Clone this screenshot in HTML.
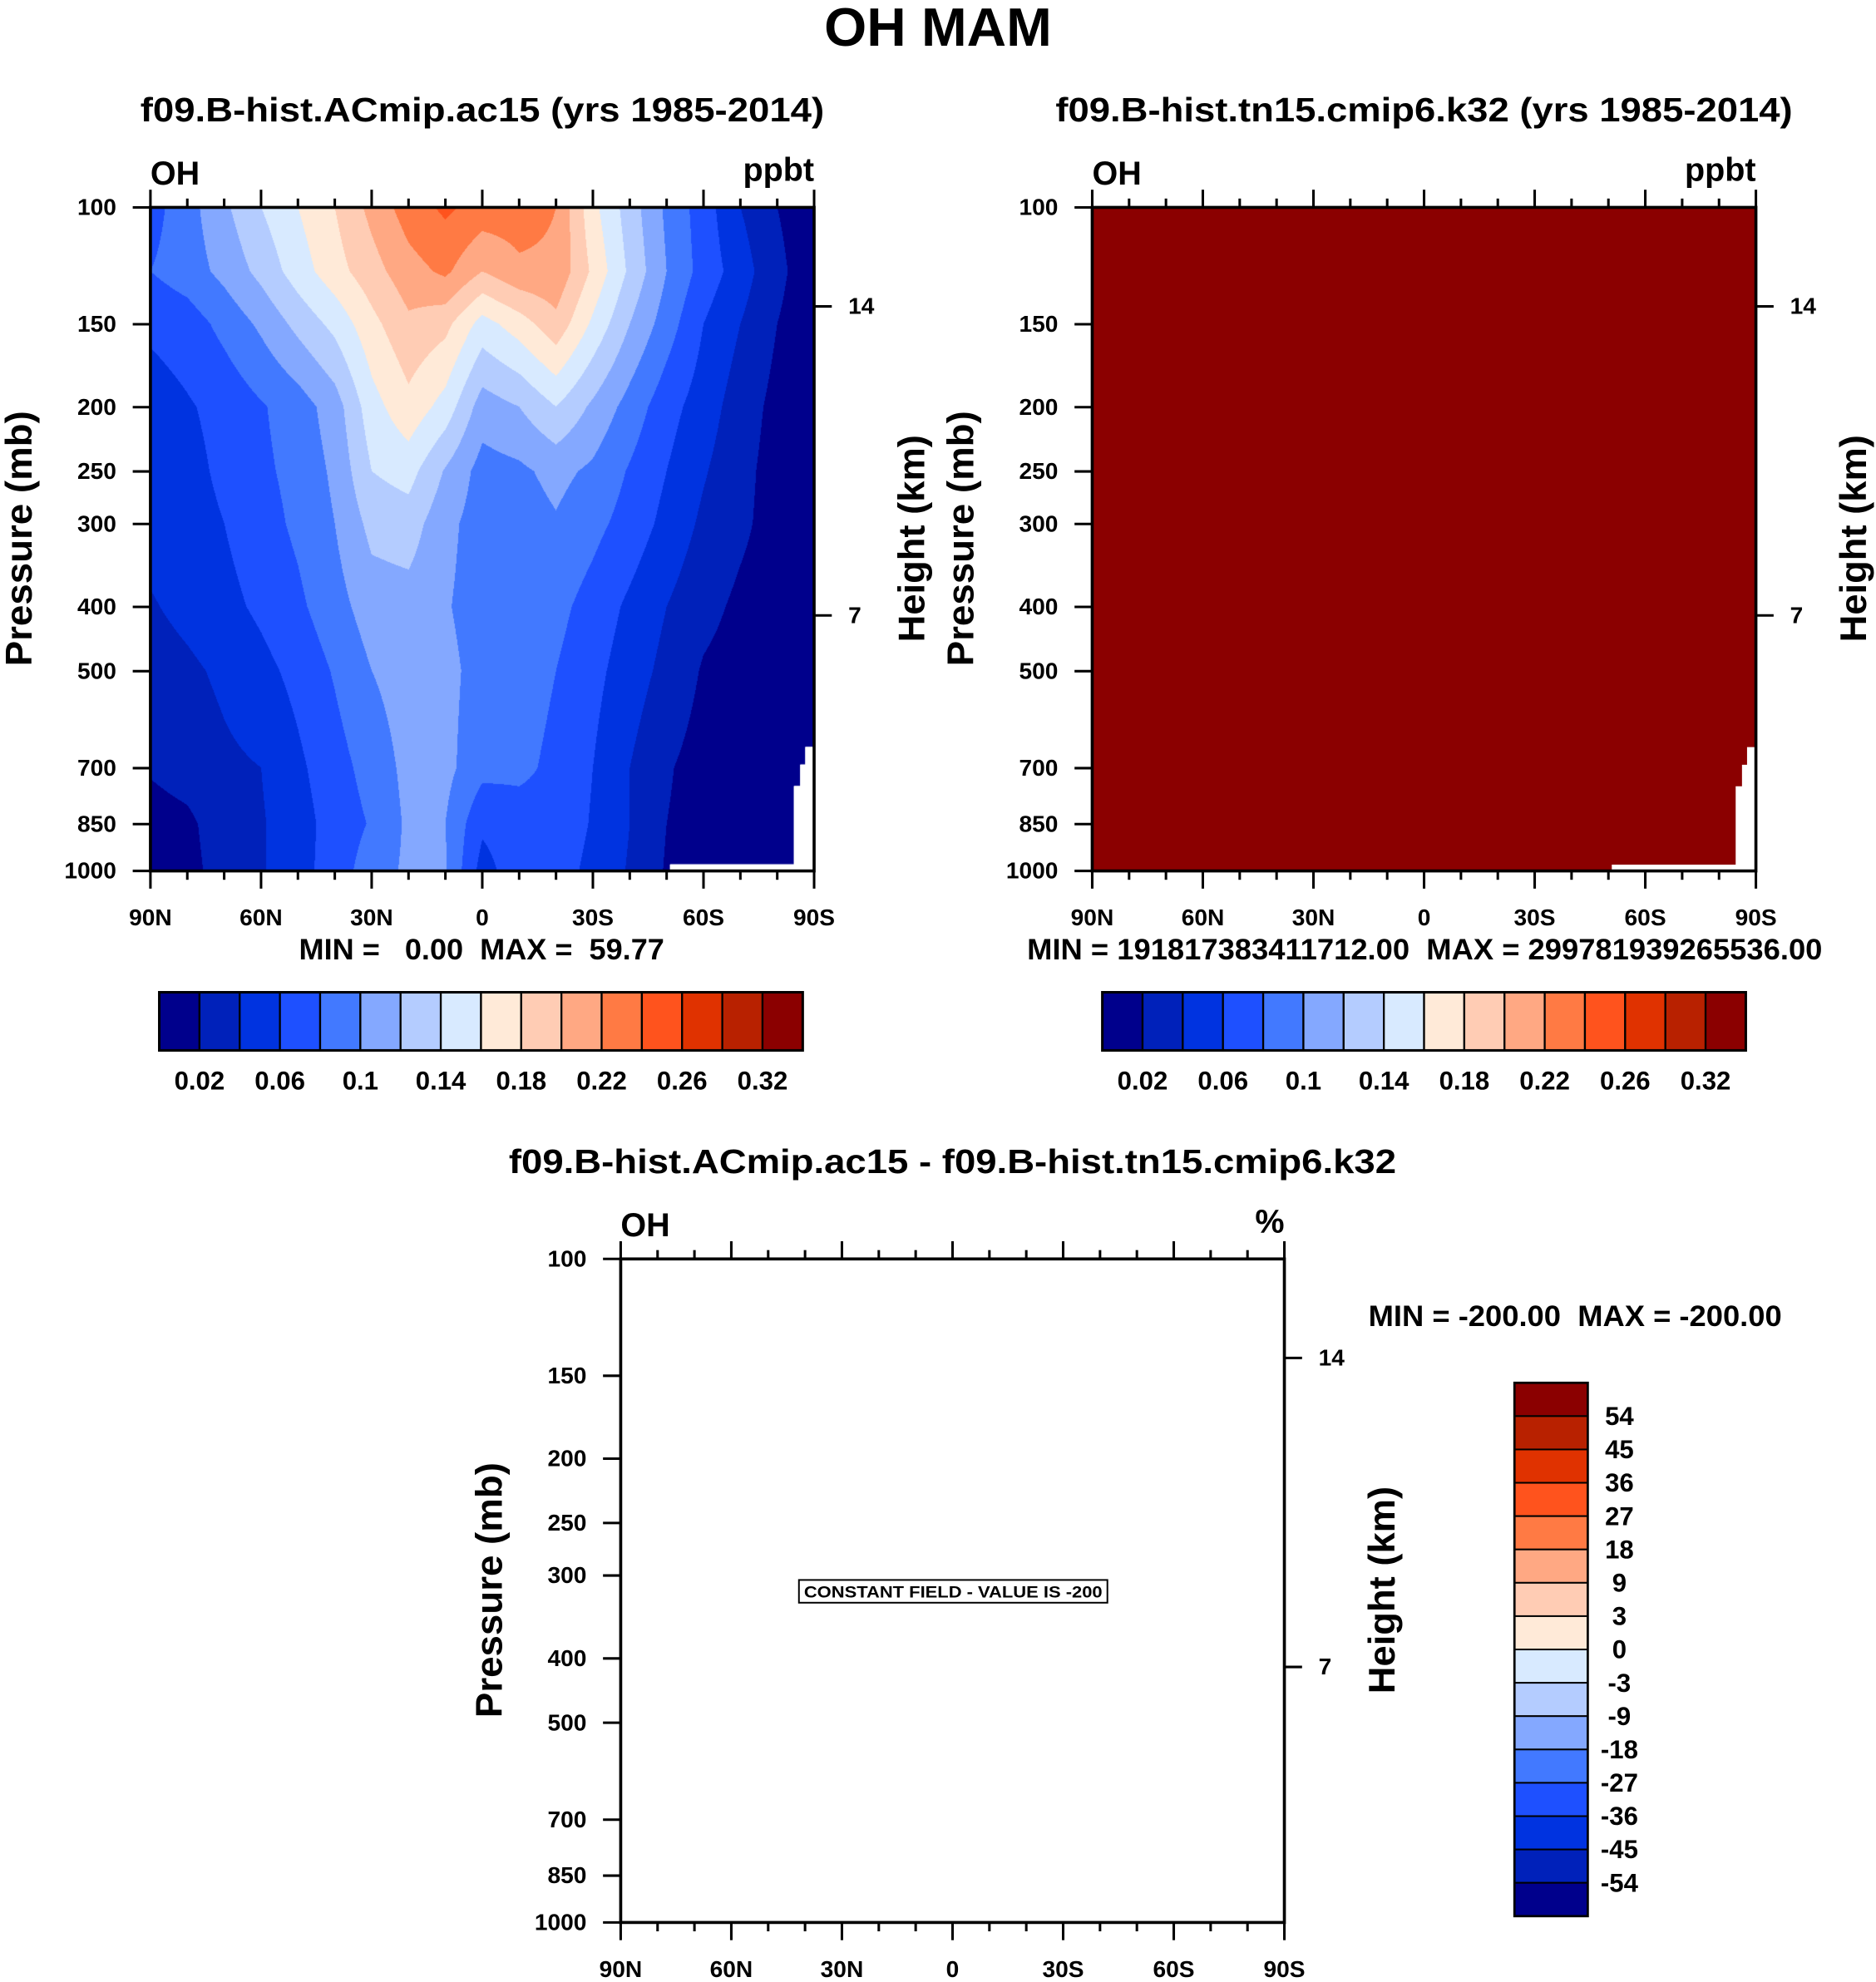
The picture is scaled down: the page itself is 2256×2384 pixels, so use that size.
<!DOCTYPE html>
<html><head><meta charset="utf-8">
<style>
html,body{margin:0;padding:0;background:#fff;}
#wrap{position:relative;width:2256px;height:2384px;overflow:hidden;}
svg{position:absolute;left:0;top:0;}
canvas{position:absolute;}
text{font-family:"Liberation Sans",Arial,sans-serif;font-weight:bold;fill:#000;}
</style></head>
<body>
<div id="wrap">
<canvas id="c1"></canvas>
<svg id="s" width="2256" height="2384" viewBox="0 0 1484 1568"></svg>
</div>
<script>
// ---------- data ----------
const lats = [90,80,70,60,50,40,30,20,10,0,-10,-20,-30,-40,-50,-60,-70,-80,-90];
const pLevels = [100,125,150,200,250,300,400,500,700,850,1000];
const row100  = [3.6,4.6,5.8,7.0,8.0,9.0,10.3,11.5,12.2,11.6,11.5,11.0,8.3,6.5,4.8,3.5,2.0,1.0,0.5];
const row125  = [4.0,4.5,5.3,6.3,7.5,8.6,9.6,10.6,11.2,10.0,10.8,10.8,8.8,6.8,5.0,3.6,2.5,1.2,0.5];
const row150  = [3.2,3.5,4.3,5.2,6.3,7.3,8.7,9.8,9.3,7.6,8.5,9.7,7.8,6.0,4.5,3.0,2.0,1.0,0.5];
const row200  = [2.5,2.9,3.3,3.9,4.5,5.5,7.6,8.7,7.6,5.5,6.0,7.0,5.8,4.6,3.4,2.5,1.5,0.7,0.4];
const row250  = [2.4,2.7,3.2,3.8,4.3,5.2,7.0,7.4,5.9,4.6,4.8,5.3,4.8,3.9,3.0,2.1,1.3,0.6,0.4];
const row300  = [2.4,2.6,3.0,3.6,4.2,5.0,6.3,6.5,5.3,4.5,4.5,4.9,4.3,3.6,2.7,1.8,1.2,0.6,0.4];
const row400  = [1.9,2.3,2.7,3.2,3.8,4.6,5.5,5.6,5.1,4.5,4.5,4.3,3.6,2.8,2.0,1.3,0.8,0.5,0.4];
const row500  = [1.5,1.8,2.2,2.7,3.3,4.1,5.0,5.5,5.3,4.6,4.4,4.0,3.3,2.5,1.7,0.9,0.6,0.5,0.4];
const row700  = [1.1,1.4,1.8,2.0,2.8,3.6,4.4,5.3,5.3,4.3,4.2,3.8,3.0,2.0,1.1,0.6,0.5,0.5,0.4];
const row850  = [0.6,0.8,1.5,1.9,2.6,3.4,4.1,5.2,5.0,3.2,3.6,3.7,2.9,2.0,1.0,0.6,0.5,0.5,0.4];
const row1000 = [0.5,0.7,1.4,1.9,2.6,3.5,4.5,5.2,5.1,2.6,3.6,3.5,2.7,1.9,0.9,0.6,0.5,0.5,0.4];
const ohRows = [row100,row125,row150,row200,row250,row300,row400,row500,row700,row850,row1000].map(r=>r.map(v=>v*0.02));
const contourLevels = [0.02,0.04,0.06,0.08,0.10,0.12,0.14,0.16,0.18,0.20,0.22,0.24,0.26,0.28,0.30];
const ohColorbarLabels = ["0.02","0.06","0.1","0.14","0.18","0.22","0.26","0.32"];
const ohColorbarLabelIdx = [1,3,5,7,9,11,13,15];
const diffLabels = ["54","45","36","27","18","9","3","0","-3","-9","-18","-27","-36","-45","-54"];
const presTicks = [100,150,200,250,300,400,500,700,850,1000];
const heightTicks = ["14","7"];
const heightTickP = [141,412];
const latTicks = [90,60,30,0,-30,-60,-90];
const latTickLabels = ["90N","60N","30N","0","30S","60S","90S"];
const colors = ["#00008C","#0021BA","#0033E0","#1E50FF","#4279FF","#84A8FF","#B4CCFF","#D8EAFF","#FFEAD8","#FFCCB4","#FFA883","#FF7A44","#FF531D","#E03200","#B82100","#8B0000"];

// ---------- helpers ----------
const NS="http://www.w3.org/2000/svg";
const svg=document.getElementById('s');
function el(tag,attrs,parent){const e=document.createElementNS(NS,tag);for(const k in attrs)e.setAttribute(k,attrs[k]);(parent||svg).appendChild(e);return e;}
function txt(s,x,y,size,anchor,parent,extra){const t=el('text',Object.assign({x:x,y:y,'font-size':size,'text-anchor':anchor||'middle'},extra||{}),parent);t.textContent=s;return t;}
function fit(len){return {textLength:len,lengthAdjust:'spacingAndGlyphs'};}
const PW=525,PH=525;
function yP(p,oy){return oy+PH*Math.log10(p/100);}
function xL(lat,ox){return ox+PW*(90-lat)/180;}

function panel(ox,oy,name,opts){
  const g=el('g',{});
  
  
  if(opts.fill){
    const r=el('rect',{x:ox,y:oy,width:PW,height:PH,fill:opts.fill},g);
    
    
  }
  if(opts.notch){
    const pts=[[530,684],[628,684],[628,622],[633,622],[633,605],[637,605],[637,591],[643,591],[643,689],[530,689]];
    const pg=el('polygon',{points:pts.map(p=>(p[0]-119+ox)+','+(p[1]-164+oy)).join(' '),fill:'#fff'},g);
    
    
  }
  const frame=el('rect',{x:ox,y:oy,width:PW,height:PH,fill:'none',stroke:'#000','stroke-width':2.4},g);
  
  
  for(let lat=90;lat>=-90;lat-=10){
    const x=xL(lat,ox);const major=lat%30===0;const L=major?14:7;
    el('line',{x1:x,y1:oy,x2:x,y2:oy-L,stroke:'#000','stroke-width':2},g);
    el('line',{x1:x,y1:oy+PH,x2:x,y2:oy+PH+L,stroke:'#000','stroke-width':2},g);
  }
  latTicks.forEach((lat,i)=>{
    const t=txt(latTickLabels[i],xL(lat,ox),oy+PH+43,18.5,'middle',g);
    
    
  });
  presTicks.forEach(p=>{
    const y=yP(p,oy);
    el('line',{x1:ox,y1:y,x2:ox-14,y2:y,stroke:'#000','stroke-width':2},g);
    const t=txt(String(p),ox-27,y+6,18.5,'end',g);
    
    
  });
  heightTickP.forEach((p,i)=>{
    const y=yP(p,oy);
    el('line',{x1:ox+PW,y1:y,x2:ox+PW+14,y2:y,stroke:'#000','stroke-width':2},g);
    const t=txt(heightTicks[i],ox+PW+27,y+6,18.5,'start',g);
    
    
  });
  const yt=txt('Pressure (mb)',0,0,29,'middle',g,Object.assign({transform:`translate(${ox-94},${oy+262}) rotate(-90)`},fit(202)));
  
  
  const ht=txt('Height (km)',0,0,29,'middle',g,Object.assign({transform:`translate(${ox+PW+87},${oy+262}) rotate(-90)`},fit(164)));
  
  
  const oh=txt('OH',ox,oy-18,26,'start',g);
  
  
  const un=txt(opts.units,ox+PW,oy-21,26,'end',g);
  
  
  const st=txt(opts.title,ox+PW/2,oy-68,27,'middle',g,fit(opts.tw));
  
  
}

function hColorbar(x0,y0,name){
  const g=el('g',{});
  
  
  const w=509/16;
  colors.forEach((c,i)=>{
    const r=el('rect',{x:x0+i*w,y:y0,width:w,height:46,fill:c,stroke:'#000','stroke-width':1.5},g);
    
    
  });
  el('rect',{x:x0,y:y0,width:509,height:46,fill:'none',stroke:'#000','stroke-width':2},g);
  ohColorbarLabels.forEach((s,i)=>{
    const t=txt(s,x0+ohColorbarLabelIdx[i]*w,y0+77,20.5,'middle',g);
    
    
  });
}

const mt=txt('OH MAM',742,36,43,'middle',null,fit(180));



panel(119,164,'panel-ac15',{units:'ppbt',title:'f09.B-hist.ACmip.ac15 (yrs 1985-2014)',tw:541,notch:true});
const m1=txt('MIN =   0.00  MAX =  59.77',381,759,23,'middle',null,Object.assign({style:'white-space:pre'},fit(289)));


hColorbar(126,785,'colorbar-ac15');

panel(864,164,'panel-tn15',{units:'ppbt',title:'f09.B-hist.tn15.cmip6.k32 (yrs 1985-2014)',tw:583,fill:'#8B0000',notch:true});
const m2=txt('MIN = 191817383411712.00  MAX = 299781939265536.00',1127,759,23,'middle',null,Object.assign({style:'white-space:pre'},fit(629)));


hColorbar(872,785,'colorbar-tn15');

panel(491,996,'panel-difference',{units:'%',title:'f09.B-hist.ACmip.ac15 - f09.B-hist.tn15.cmip6.k32',tw:702});
const cb=el('rect',{x:632,y:1250,width:244,height:18,fill:'#fff',stroke:'#000','stroke-width':1.3});


const cf=txt('CONSTANT FIELD - VALUE IS -200',754,1264,13,'middle',null,fit(236));


const m3=txt('MIN = -200.00  MAX = -200.00',1246,1049,23,'middle',null,Object.assign({style:'white-space:pre'},fit(327)));


(function(){
  const g=el('g',{});
  
  
  const h=422/16;
  for(let i=0;i<16;i++){
    const r=el('rect',{x:1198,y:1094+i*h,width:58,height:h,fill:colors[15-i],stroke:'#000','stroke-width':1.3},g);
    
    
  }
  el('rect',{x:1198,y:1094,width:58,height:422,fill:'none',stroke:'#000','stroke-width':1.8},g);
  diffLabels.forEach((s,i)=>{
    const t=txt(s,1281,1094+(i+1)*h+7,20.5,'middle',g);
    
    
  });
})();

(function(){
  const S=2256/1484;
  const c=document.getElementById('c1');
  const L=Math.round(119*S),T=Math.round(164*S),W=Math.round(525*S),H=Math.round(525*S);
  c.style.left=L+'px';c.style.top=T+'px';c.width=W;c.height=H;
  const ctx=c.getContext('2d');
  const img=ctx.createImageData(W,H);
  const rgb=colors.map(h=>[parseInt(h.slice(1,3),16),parseInt(h.slice(3,5),16),parseInt(h.slice(5,7),16)]);
  const lp=pLevels.map(p=>Math.log10(p/100));
  for(let j=0;j<H;j++){
    const z=(j+0.5)/H;
    let k=0;while(k<lp.length-2&&z>lp[k+1])k++;
    const fz=Math.min(1,Math.max(0,(z-lp[k])/(lp[k+1]-lp[k])));
    for(let i=0;i<W;i++){
      const fx=(i+0.5)/W*(lats.length-1);
      const a=Math.min(lats.length-2,Math.floor(fx));const f=fx-a;
      const v0=ohRows[k][a]*(1-f)+ohRows[k][a+1]*f;
      const v1=ohRows[k+1][a]*(1-f)+ohRows[k+1][a+1]*f;
      const v=v0*(1-fz)+v1*fz;
      let b=0;while(b<contourLevels.length&&v>=contourLevels[b])b++;
      const o=(j*W+i)*4;const col=rgb[b];
      img.data[o]=col[0];img.data[o+1]=col[1];img.data[o+2]=col[2];img.data[o+3]=255;
    }
  }
  ctx.putImageData(img,0,0);
  ctx.fillStyle='#fff';
  const pts=[[530,684],[628,684],[628,622],[633,622],[633,605],[637,605],[637,591],[643,591],[643,689],[530,689]];
  ctx.beginPath();
  pts.forEach((p,n)=>{const x=(p[0]-119)*S,y=(p[1]-164)*S;n?ctx.lineTo(x,y):ctx.moveTo(x,y);});
  ctx.closePath();ctx.fill();
})();
</script>
</body></html>
